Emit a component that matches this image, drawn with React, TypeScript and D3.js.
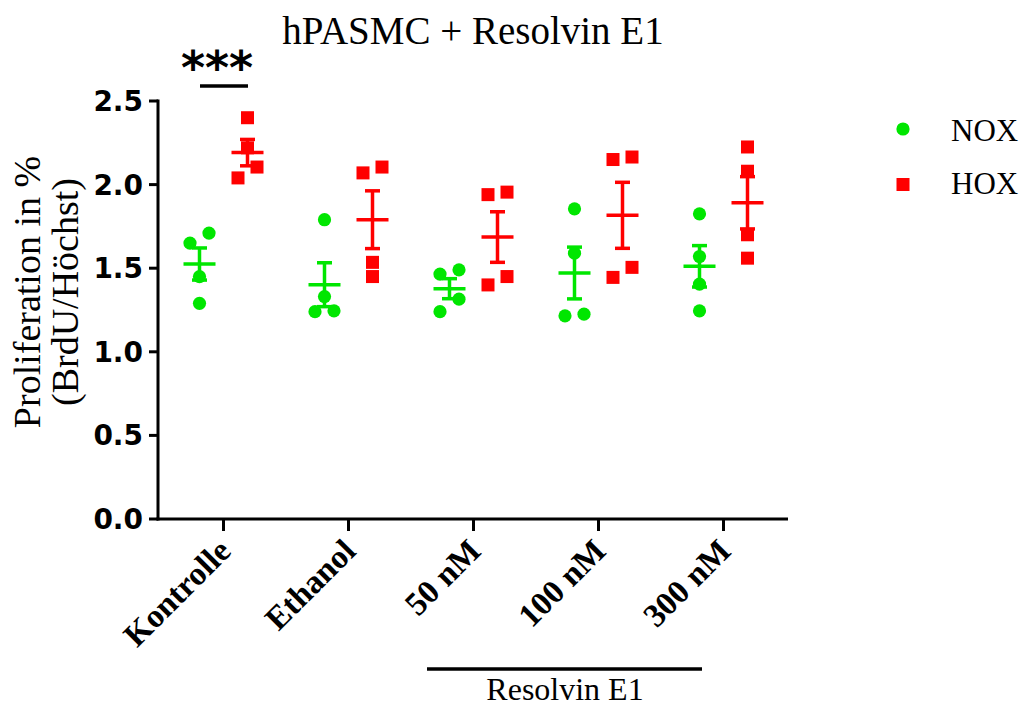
import React from "react";
import * as d3 from "d3";

// Data
const categories = ["Kontrolle", "Ethanol", "50 nM", "100 nM", "300 nM"];
const noxValues = [
  [1.29, 1.45, 1.65, 1.71],
  [1.24, 1.245, 1.33, 1.79],
  [1.24, 1.315, 1.465, 1.49],
  [1.215, 1.225, 1.59, 1.855],
  [1.245, 1.405, 1.57, 1.825],
];
const hoxValues = [
  [2.04, 2.105, 2.22, 2.4],
  [1.45, 1.535, 2.07, 2.105],
  [1.4, 1.45, 1.94, 1.955],
  [1.445, 1.505, 2.15, 2.165],
  [1.56, 1.7, 2.08, 2.225],
];
const yTicks = [0, 0.5, 1.0, 1.5, 2.0, 2.5];
const seriesNames = ["NOX", "HOX"];

const GREEN = "#00e600";
const RED = "#ff0000";
const SERIF = "Liberation Serif";
const SANS = "DejaVu Sans";

const width = 1027;
const height = 708;

// spread points that overlap vertically (like a column scatter)
function spread(values: number[], y: d3.ScaleLinear<number, number>, gap: number, step: number) {
  const sorted = [...values].sort((a, b) => a - b);
  const out: { v: number; dx: number }[] = [];
  let row: number[] = [];
  const flush = () => {
    row.forEach((v, i) => out.push({ v, dx: (i - (row.length - 1) / 2) * step }));
    row = [];
  };
  sorted.forEach((v) => {
    if (row.length && Math.abs(y(row[row.length - 1]) - y(v)) >= gap) flush();
    row.push(v);
  });
  flush();
  return out;
}

const App = () => {
  const x = d3.scaleBand().domain(categories).range([161, 786]);
  const y = d3.scaleLinear().domain([0, 2.5]).range([519, 101]);
  const off = 24;

  const stats = (vals: number[]) => {
    const m = d3.mean(vals)!;
    const se = d3.deviation(vals)! / Math.sqrt(vals.length);
    return { m, se };
  };

  const renderGroup = (vals: number[], cx: number, color: string, square: boolean, key: string) => {
    const { m, se } = stats(vals);
    const pts = spread(vals, y, 14, 19);
    return (
      <g key={key}>
        {pts.map((p, i) =>
          square ? (
            <rect key={i} x={cx + p.dx - 6.5} y={y(p.v) - 6.5} width={13} height={13} fill={color} />
          ) : (
            <circle key={i} cx={cx + p.dx} cy={y(p.v)} r={6.6} fill={color} />
          )
        )}
        <line x1={cx - 16} x2={cx + 16} y1={y(m)} y2={y(m)} stroke={color} strokeWidth={3.5} />
        <line x1={cx} x2={cx} y1={y(m - se)} y2={y(m + se)} stroke={color} strokeWidth={3.5} />
        <line x1={cx - 7.5} x2={cx + 7.5} y1={y(m + se)} y2={y(m + se)} stroke={color} strokeWidth={3.5} />
        <line x1={cx - 7.5} x2={cx + 7.5} y1={y(m - se)} y2={y(m - se)} stroke={color} strokeWidth={3.5} />
      </g>
    );
  };

  const center = (c: string) => x(c)! + x.bandwidth() / 2;
  const serif = { fontFamily: SERIF };
  const sans = { fontFamily: SANS };

  return (
    <svg width={width} height={height} style={{ position: "absolute", left: 0, top: 0, background: "#fff" }}>
      {/* title */}
      <text x={473} y={44} textAnchor="middle" style={serif} fontSize={39}>
        hPASMC + Resolvin E1
      </text>

      {/* y axis title */}
      <g transform="translate(40,292) rotate(-90)" style={serif} fontSize={38} textAnchor="middle">
        <text x={0} y={0}>Proliferation in %</text>
        <text x={0} y={38}>(BrdU/Höchst)</text>
      </g>

      {/* y axis */}
      <line x1={158} x2={158} y1={y(2.5) - 1.5} y2={y(0) + 1.5} stroke="#000" strokeWidth={3} />
      {yTicks.map((t) => (
        <g key={t}>
          <line x1={149} x2={158} y1={y(t)} y2={y(t)} stroke="#000" strokeWidth={3} />
          <text x={143} y={y(t) + 10} textAnchor="end" style={sans} fontWeight="bold" fontSize={28}>
            {t.toFixed(1)}
          </text>
        </g>
      ))}

      {/* x axis */}
      <line x1={156.5} x2={788} y1={519} y2={519} stroke="#000" strokeWidth={3} />
      {categories.map((c) => (
        <g key={c}>
          <line x1={center(c)} x2={center(c)} y1={519} y2={531} stroke="#000" strokeWidth={3} />
          <text
            transform={`translate(${center(c) + 9},${553}) rotate(-45)`}
            textAnchor="end"
            style={serif}
            fontWeight="bold"
            fontSize={33}
          >
            {c}
          </text>
        </g>
      ))}

      {/* data */}
      {categories.map((c, i) => (
        <g key={c}>
          {renderGroup(noxValues[i], center(c) - off, GREEN, false, "n" + i)}
          {renderGroup(hoxValues[i], center(c) + off, RED, true, "h" + i)}
        </g>
      ))}

      {/* significance */}
      <line x1={200} x2={248} y1={86} y2={86} stroke="#000" strokeWidth={3.5} />
      <text x={217} y={84} textAnchor="middle" style={sans} fontWeight="bold" fontSize={46}>
        ***
      </text>

      {/* Resolvin bracket */}
      <line x1={427} x2={702} y1={669} y2={669} stroke="#000" strokeWidth={3.5} />
      <text x={565} y={700} textAnchor="middle" style={serif} fontSize={32}>
        Resolvin E1
      </text>

      {/* legend */}
      <circle cx={903} cy={129} r={6.6} fill={GREEN} />
      <text x={951} y={141} style={serif} fontSize={31}>{seriesNames[0]}</text>
      <rect x={896.5} y={178} width={13} height={13} fill={RED} />
      <text x={951} y={194} style={serif} fontSize={31}>{seriesNames[1]}</text>
    </svg>
  );
};

export default App;
